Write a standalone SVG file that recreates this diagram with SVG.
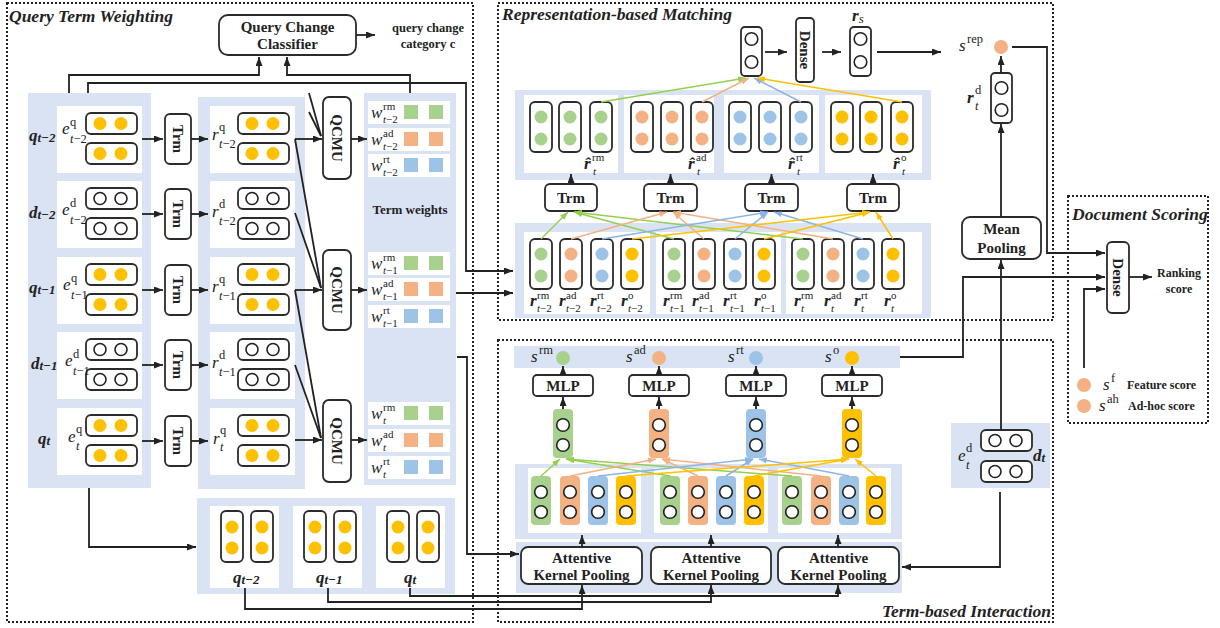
<svg xmlns="http://www.w3.org/2000/svg" width="1220" height="628" viewBox="0 0 1220 628">
<style>
.bg{fill:#dae3f3}
.wb{fill:#fff}
.bx{fill:#fff;stroke:#2b2b2b;stroke-width:1.8}
.oc{fill:#fff;stroke:#222;stroke-width:1.6}
.ln{fill:none;stroke:#222;stroke-width:1.8}
.fr{fill:none;stroke:#222;stroke-width:2;stroke-dasharray:2 2}
.lg{fill:none;stroke:#92d050;stroke-width:1.5}
.lo{fill:none;stroke:#f4b183;stroke-width:1.5}
.lb{fill:none;stroke:#8eb4e3;stroke-width:1.5}
.ly{fill:none;stroke:#ffc000;stroke-width:1.5}
text{font-family:"Liberation Serif","Times New Roman",serif;fill:#222}
.b{font-weight:bold}
.ttl{font-weight:bold;font-style:italic;font-size:17.5px}
.mi{font-style:italic;font-size:17px}
.bi{font-weight:bold;font-style:italic;font-size:17px}
.bs{font-weight:bold;font-style:italic;font-size:13px}
.sc{font-size:12.5px}
.ss{font-size:11px}
.it{font-style:italic}
</style>
<defs>
<marker id="ah" markerUnits="userSpaceOnUse" markerWidth="10" markerHeight="8" refX="9" refY="3.5" orient="auto"><path d="M0,0 L9,3.5 L0,7 z" fill="#222"/></marker>
<marker id="ag" markerUnits="userSpaceOnUse" markerWidth="9" markerHeight="7" refX="8" refY="3" orient="auto"><path d="M0,0 L8,3 L0,6 z" fill="#92d050"/></marker>
<marker id="ao" markerUnits="userSpaceOnUse" markerWidth="9" markerHeight="7" refX="8" refY="3" orient="auto"><path d="M0,0 L8,3 L0,6 z" fill="#f4b183"/></marker>
<marker id="ab" markerUnits="userSpaceOnUse" markerWidth="9" markerHeight="7" refX="8" refY="3" orient="auto"><path d="M0,0 L8,3 L0,6 z" fill="#8eb4e3"/></marker>
<marker id="ay" markerUnits="userSpaceOnUse" markerWidth="9" markerHeight="7" refX="8" refY="3" orient="auto"><path d="M0,0 L8,3 L0,6 z" fill="#ffc000"/></marker>
<!-- horizontal embedding pills -->
<g id="hy"><rect class="bx" width="51" height="21" rx="5"/><circle cx="14" cy="10.5" r="6.5" fill="#ffc000"/><circle cx="35" cy="10.5" r="6.5" fill="#ffc000"/></g>
<g id="hw"><rect class="bx" width="51" height="21" rx="5"/><circle class="oc" cx="14" cy="10.5" r="6"/><circle class="oc" cx="35" cy="10.5" r="6"/></g>
<!-- vertical pills -->
<g id="vy"><rect class="bx" width="22" height="51" rx="5"/><circle cx="11" cy="16" r="6.5" fill="#ffc000"/><circle cx="11" cy="37" r="6.5" fill="#ffc000"/></g>
<g id="pg"><rect class="bx" width="22" height="50" rx="5"/><circle cx="11" cy="15" r="6.5" fill="#a9d18e"/><circle cx="11" cy="37" r="6.5" fill="#a9d18e"/></g>
<g id="po"><rect class="bx" width="22" height="50" rx="5"/><circle cx="11" cy="15" r="6.5" fill="#f4b183"/><circle cx="11" cy="37" r="6.5" fill="#f4b183"/></g>
<g id="pb"><rect class="bx" width="22" height="50" rx="5"/><circle cx="11" cy="15" r="6.5" fill="#9dc3e6"/><circle cx="11" cy="37" r="6.5" fill="#9dc3e6"/></g>
<g id="pyl"><rect class="bx" width="22" height="50" rx="5"/><circle cx="11" cy="15" r="6.5" fill="#ffc000"/><circle cx="11" cy="37" r="6.5" fill="#ffc000"/></g>
<g id="vw"><rect class="bx" width="21" height="49" rx="4"/><circle class="oc" cx="10.5" cy="12" r="6.3"/><circle class="oc" cx="10.5" cy="35" r="6.3"/></g>
<!-- filled kernel vectors -->
<g id="kg"><rect width="20" height="49" rx="4" fill="#a9d18e"/><circle class="oc" cx="10" cy="16" r="6.3"/><circle class="oc" cx="10" cy="36" r="6.3"/></g>
<g id="ko"><rect width="20" height="49" rx="4" fill="#f4b183"/><circle class="oc" cx="10" cy="16" r="6.3"/><circle class="oc" cx="10" cy="36" r="6.3"/></g>
<g id="kb"><rect width="20" height="49" rx="4" fill="#9dc3e6"/><circle class="oc" cx="10" cy="16" r="6.3"/><circle class="oc" cx="10" cy="36" r="6.3"/></g>
<g id="ky"><rect width="20" height="49" rx="4" fill="#ffc000"/><circle class="oc" cx="10" cy="16" r="6.3"/><circle class="oc" cx="10" cy="36" r="6.3"/></g>
<!-- term weight squares -->
<g id="sqg"><rect width="14" height="14" fill="#a9d18e"/><rect x="25" width="14" height="14" fill="#a9d18e"/></g>
<g id="sqo"><rect width="14" height="14" fill="#f4b183"/><rect x="25" width="14" height="14" fill="#f4b183"/></g>
<g id="sqb"><rect width="14" height="14" fill="#9dc3e6"/><rect x="25" width="14" height="14" fill="#9dc3e6"/></g>
</defs>

<rect width="1220" height="628" fill="#fff"/>

<!-- section frames -->
<g id="frames">
<rect class="fr" x="7" y="3" width="466" height="619"/>
<rect class="fr" x="498" y="3" width="555" height="317"/>
<rect class="fr" x="498" y="340" width="555" height="282"/>
<rect class="fr" x="1068" y="196" width="140" height="227"/>
<text class="ttl" x="9" y="22">Query Term Weighting</text>
<text class="ttl" x="502" y="20">Representation-based Matching</text>
<text class="ttl" x="1051" y="617" text-anchor="end">Term-based Interaction</text>
<text class="ttl" x="1072" y="220">Document Scoring</text>
</g>

<!-- backgrounds -->
<g id="panels">
<rect class="bg" x="28" y="93" width="123" height="395"/>
<rect class="bg" x="198" y="97" width="107" height="392"/>
<rect class="bg" x="364" y="93" width="92" height="392"/>
<rect class="bg" x="197" y="498" width="258" height="96"/>
<rect class="bg" x="515" y="90" width="416" height="90"/>
<rect class="bg" x="515" y="223" width="416" height="95"/>
<rect class="bg" x="514" y="346" width="386" height="22"/>
<rect class="bg" x="515" y="464" width="387" height="75"/>
<rect class="bg" x="516" y="542" width="386" height="51"/>
<rect class="bg" x="951" y="423" width="99" height="65"/>
</g>

<!-- query change classifier -->
<g id="classifier">
<rect class="bx" x="219" y="15" width="137" height="40" rx="9"/>
<text class="b" x="287.5" y="32" font-size="15" text-anchor="middle">Query Change</text>
<text class="b" x="287.5" y="49" font-size="15" text-anchor="middle">Classifier</text>
<text class="b" x="428" y="32" font-size="12.5" text-anchor="middle">query change</text>
<text class="b" x="428" y="48" font-size="12.5" text-anchor="middle">category c</text>
</g>

<!-- session rows: embeddings, Trm encoders, contextual representations -->
<g id="row-q-t2">
<rect class="wb" x="57" y="106" width="85" height="67"/>
<use href="#hy" x="86" y="113"/><use href="#hy" x="86" y="143"/>
<text class="bi" x="29" y="141">q<tspan class="bs" dy="1">t−2</tspan></text>
<text class="mi" x="62" y="134">e</text><text class="sc" x="70" y="126">q</text><text class="sc" x="70" y="143"><tspan class="it">t</tspan>−2</text>
<rect class="bx" x="165" y="114" width="26" height="50" rx="5"/>
<text class="b" font-size="15" transform="translate(178,139) rotate(90)" text-anchor="middle" dominant-baseline="central">Trm</text>
<rect class="wb" x="210" y="106" width="85" height="67"/>
<use href="#hy" x="238" y="113"/><use href="#hy" x="238" y="143"/>
<text class="mi" x="212" y="140">r</text><text class="sc" x="219" y="131">q</text><text class="sc" x="219" y="148"><tspan class="it">t</tspan>−2</text>
</g>
<g id="row-d-t2">
<rect class="wb" x="57" y="181" width="85" height="67"/>
<use href="#hw" x="86" y="188"/><use href="#hw" x="86" y="218"/>
<text class="bi" x="29" y="218">d<tspan class="bs" dy="1">t−2</tspan></text>
<text class="mi" x="62" y="215">e</text><text class="sc" x="70" y="207">d</text><text class="sc" x="70" y="224"><tspan class="it">t</tspan>−2</text>
<rect class="bx" x="165" y="189" width="26" height="50" rx="5"/>
<text class="b" font-size="15" transform="translate(178,214) rotate(90)" text-anchor="middle" dominant-baseline="central">Trm</text>
<rect class="wb" x="210" y="181" width="85" height="67"/>
<use href="#hw" x="238" y="188"/><use href="#hw" x="238" y="218"/>
<text class="mi" x="212" y="217">r</text><text class="sc" x="219" y="208">d</text><text class="sc" x="219" y="225"><tspan class="it">t</tspan>−2</text>
</g>
<g id="row-q-t1">
<rect class="wb" x="57" y="257" width="85" height="67"/>
<use href="#hy" x="86" y="264"/><use href="#hy" x="86" y="294"/>
<text class="bi" x="29" y="293">q<tspan class="bs" dy="1">t−1</tspan></text>
<text class="mi" x="63" y="290">e</text><text class="sc" x="71" y="282">q</text><text class="sc" x="71" y="299"><tspan class="it">t</tspan>−1</text>
<rect class="bx" x="165" y="265" width="26" height="50" rx="5"/>
<text class="b" font-size="15" transform="translate(178,290) rotate(90)" text-anchor="middle" dominant-baseline="central">Trm</text>
<rect class="wb" x="210" y="257" width="85" height="67"/>
<use href="#hy" x="238" y="264"/><use href="#hy" x="238" y="294"/>
<text class="mi" x="212" y="292">r</text><text class="sc" x="219" y="283">q</text><text class="sc" x="219" y="300"><tspan class="it">t</tspan>−1</text>
</g>
<g id="row-d-t1">
<rect class="wb" x="57" y="332" width="85" height="67"/>
<use href="#hw" x="86" y="339"/><use href="#hw" x="86" y="369"/>
<text class="bi" x="31" y="369">d<tspan class="bs" dy="1">t−1</tspan></text>
<text class="mi" x="65" y="366">e</text><text class="sc" x="73" y="358">d</text><text class="sc" x="73" y="375"><tspan class="it">t</tspan>−1</text>
<rect class="bx" x="165" y="340" width="26" height="50" rx="5"/>
<text class="b" font-size="15" transform="translate(178,365) rotate(90)" text-anchor="middle" dominant-baseline="central">Trm</text>
<rect class="wb" x="210" y="332" width="85" height="67"/>
<use href="#hw" x="238" y="339"/><use href="#hw" x="238" y="369"/>
<text class="mi" x="212" y="368">r</text><text class="sc" x="219" y="359">d</text><text class="sc" x="219" y="376"><tspan class="it">t</tspan>−1</text>
</g>
<g id="row-q-t">
<rect class="wb" x="57" y="408" width="85" height="67"/>
<use href="#hy" x="86" y="415"/><use href="#hy" x="86" y="445"/>
<text class="bi" x="38" y="444">q<tspan class="bs" dy="1">t</tspan></text>
<text class="mi" x="68" y="442">e</text><text class="sc" x="76" y="433">q</text><text class="sc it" x="76" y="450">t</text>
<rect class="bx" x="165" y="416" width="26" height="50" rx="5"/>
<text class="b" font-size="15" transform="translate(178,441) rotate(90)" text-anchor="middle" dominant-baseline="central">Trm</text>
<rect class="wb" x="210" y="408" width="85" height="67"/>
<use href="#hy" x="238" y="415"/><use href="#hy" x="238" y="445"/>
<text class="mi" x="213" y="444">r</text><text class="sc" x="220" y="434">q</text><text class="sc it" x="220" y="451">t</text>
</g>

<!-- query change modeling units -->
<g id="qcmu-t2"><rect class="bx" x="323" y="97" width="28" height="82" rx="6"/>
<text class="b" font-size="15" transform="translate(337,138) rotate(90)" text-anchor="middle" dominant-baseline="central">QCMU</text></g>
<g id="qcmu-t1"><rect class="bx" x="323" y="250" width="28" height="80" rx="6"/>
<text class="b" font-size="15" transform="translate(337,290) rotate(90)" text-anchor="middle" dominant-baseline="central">QCMU</text></g>
<g id="qcmu-t"><rect class="bx" x="323" y="400" width="28" height="82" rx="6"/>
<text class="b" font-size="15" transform="translate(337,441) rotate(90)" text-anchor="middle" dominant-baseline="central">QCMU</text></g>

<!-- term weights -->
<g id="term-weights">
<text class="b" x="410" y="214" font-size="13" text-anchor="middle">Term weights</text>
<rect class="wb" x="368" y="101" width="82" height="23"/><use href="#sqg" x="404" y="105"/>
<text class="mi" x="371" y="118">w</text><text class="ss" x="383" y="110">rm</text><text class="ss" x="383" y="123"><tspan class="it">t</tspan>−2</text>
<rect class="wb" x="368" y="128" width="82" height="23"/><use href="#sqo" x="404" y="132"/>
<text class="mi" x="371" y="145">w</text><text class="ss" x="383" y="137">ad</text><text class="ss" x="383" y="150"><tspan class="it">t</tspan>−2</text>
<rect class="wb" x="368" y="154" width="82" height="23"/><use href="#sqb" x="404" y="158"/>
<text class="mi" x="371" y="171">w</text><text class="ss" x="383" y="163">rt</text><text class="ss" x="383" y="176"><tspan class="it">t</tspan>−2</text>
<rect class="wb" x="368" y="252" width="82" height="23"/><use href="#sqg" x="404" y="256"/>
<text class="mi" x="371" y="269">w</text><text class="ss" x="383" y="261">rm</text><text class="ss" x="383" y="274"><tspan class="it">t</tspan>−1</text>
<rect class="wb" x="368" y="278" width="82" height="23"/><use href="#sqo" x="404" y="282"/>
<text class="mi" x="371" y="295">w</text><text class="ss" x="383" y="287">ad</text><text class="ss" x="383" y="300"><tspan class="it">t</tspan>−1</text>
<rect class="wb" x="368" y="305" width="82" height="23"/><use href="#sqb" x="404" y="309"/>
<text class="mi" x="371" y="322">w</text><text class="ss" x="383" y="314">rt</text><text class="ss" x="383" y="327"><tspan class="it">t</tspan>−1</text>
<rect class="wb" x="368" y="402" width="82" height="23"/><use href="#sqg" x="404" y="406"/>
<text class="mi" x="371" y="419">w</text><text class="ss" x="383" y="411">rm</text><text class="ss it" x="383" y="424">t</text>
<rect class="wb" x="368" y="429" width="82" height="23"/><use href="#sqo" x="404" y="433"/>
<text class="mi" x="371" y="446">w</text><text class="ss" x="383" y="438">ad</text><text class="ss it" x="383" y="451">t</text>
<rect class="wb" x="368" y="456" width="82" height="23"/><use href="#sqb" x="404" y="460"/>
<text class="mi" x="371" y="473">w</text><text class="ss" x="383" y="465">rt</text><text class="ss it" x="383" y="478">t</text>
</g>

<!-- query representations for interaction -->
<g id="query-vectors">
<rect class="wb" x="210" y="506" width="69" height="82"/>
<use href="#vy" x="221" y="511"/><use href="#vy" x="251" y="511"/>
<text class="bi" x="233" y="583">q<tspan class="bs" dy="1">t−2</tspan></text>
<rect class="wb" x="293" y="506" width="69" height="82"/>
<use href="#vy" x="304" y="511"/><use href="#vy" x="334" y="511"/>
<text class="bi" x="316" y="583">q<tspan class="bs" dy="1">t−1</tspan></text>
<rect class="wb" x="376" y="506" width="69" height="82"/>
<use href="#vy" x="387" y="511"/><use href="#vy" x="417" y="511"/>
<text class="bi" x="404" y="583">q<tspan class="bs" dy="1">t</tspan></text>
</g>

<!-- representation-based matching -->
<g id="rep-top">
<use href="#vw" x="741" y="27"/>
<rect class="bx" x="796" y="18" width="18" height="64" rx="4"/>
<text class="b" font-size="15" transform="translate(805,50) rotate(90)" text-anchor="middle" dominant-baseline="central">Dense</text>
<use href="#vw" x="850" y="27"/>
<text class="bi" x="852" y="21">r<tspan class="it" font-weight="normal" font-size="13" dy="2">s</tspan></text>
<text class="mi" x="959" y="51">s</text><text class="sc" x="967" y="43">rep</text>
<circle cx="1001" cy="47" r="7" fill="#f4b183"/>
</g>
<g id="rep-hat">
<rect class="wb" x="524" y="95" width="94" height="78"/>
<use href="#pg" x="530" y="102"/><use href="#pg" x="559" y="102"/><use href="#pg" x="590" y="102"/>
<text class="bi" x="584" y="169">r̂</text><text class="ss" x="592" y="161">rm</text><text class="ss it" x="593" y="175">t</text>
<rect class="wb" x="624" y="95" width="90" height="78"/>
<use href="#po" x="631" y="102"/><use href="#po" x="661" y="102"/><use href="#po" x="691" y="102"/>
<text class="bi" x="688" y="169">r̂</text><text class="ss" x="696" y="161">ad</text><text class="ss it" x="697" y="175">t</text>
<rect class="wb" x="724" y="95" width="95" height="78"/>
<use href="#pb" x="729" y="102"/><use href="#pb" x="759" y="102"/><use href="#pb" x="790" y="102"/>
<text class="bi" x="788" y="169">r̂</text><text class="ss" x="796" y="161">rt</text><text class="ss it" x="797" y="175">t</text>
<rect class="wb" x="825" y="95" width="97" height="78"/>
<use href="#pyl" x="831" y="102"/><use href="#pyl" x="860" y="102"/><use href="#pyl" x="891" y="102"/>
<text class="bi" x="893" y="169">r̂</text><text class="ss" x="901" y="161">o</text><text class="ss it" x="902" y="175">t</text>
</g>
<g id="rep-trm">
<rect class="bx" x="545" y="184" width="52" height="27" rx="5"/><text class="b" x="571" y="203" font-size="15" text-anchor="middle">Trm</text>
<rect class="bx" x="644" y="184" width="53" height="27" rx="5"/><text class="b" x="670.5" y="203" font-size="15" text-anchor="middle">Trm</text>
<rect class="bx" x="745" y="184" width="53" height="27" rx="5"/><text class="b" x="771.5" y="203" font-size="15" text-anchor="middle">Trm</text>
<rect class="bx" x="847" y="184" width="52" height="27" rx="5"/><text class="b" x="873" y="203" font-size="15" text-anchor="middle">Trm</text>
</g>
<g id="rep-weighted">
<rect class="wb" x="524" y="232" width="126" height="82"/>
<rect class="wb" x="656" y="232" width="125" height="82"/>
<rect class="wb" x="786" y="232" width="136" height="82"/>
<use href="#pg" x="530" y="239"/><use href="#po" x="560" y="239"/><use href="#pb" x="591" y="239"/><use href="#pyl" x="621" y="239"/>
<use href="#pg" x="663" y="239"/><use href="#po" x="693" y="239"/><use href="#pb" x="724" y="239"/><use href="#pyl" x="753" y="239"/>
<use href="#pg" x="792" y="239"/><use href="#po" x="822" y="239"/><use href="#pb" x="852" y="239"/><use href="#pyl" x="882" y="239"/>
<text class="bi" x="530" y="306">r</text><text class="ss" x="537" y="299">rm</text><text class="ss" x="537" y="312"><tspan class="it">t</tspan>−2</text>
<text class="bi" x="559" y="306">r</text><text class="ss" x="566" y="299">ad</text><text class="ss" x="566" y="312"><tspan class="it">t</tspan>−2</text>
<text class="bi" x="590" y="306">r</text><text class="ss" x="597" y="299">rt</text><text class="ss" x="597" y="312"><tspan class="it">t</tspan>−2</text>
<text class="bi" x="621" y="306">r</text><text class="ss" x="628" y="299">o</text><text class="ss" x="628" y="312"><tspan class="it">t</tspan>−2</text>
<text class="bi" x="663" y="306">r</text><text class="ss" x="670" y="299">rm</text><text class="ss" x="670" y="312"><tspan class="it">t</tspan>−1</text>
<text class="bi" x="692" y="306">r</text><text class="ss" x="699" y="299">ad</text><text class="ss" x="699" y="312"><tspan class="it">t</tspan>−1</text>
<text class="bi" x="723" y="306">r</text><text class="ss" x="730" y="299">rt</text><text class="ss" x="730" y="312"><tspan class="it">t</tspan>−1</text>
<text class="bi" x="754" y="306">r</text><text class="ss" x="761" y="299">o</text><text class="ss" x="761" y="312"><tspan class="it">t</tspan>−1</text>
<text class="bi" x="794" y="306">r</text><text class="ss" x="801" y="299">rm</text><text class="ss it" x="801" y="312">t</text>
<text class="bi" x="824" y="306">r</text><text class="ss" x="831" y="299">ad</text><text class="ss it" x="831" y="312">t</text>
<text class="bi" x="854" y="306">r</text><text class="ss" x="861" y="299">rt</text><text class="ss it" x="861" y="312">t</text>
<text class="bi" x="884" y="306">r</text><text class="ss" x="891" y="299">o</text><text class="ss it" x="891" y="312">t</text>
</g>

<!-- document side -->
<g id="doc-rep">
<rect class="bx" x="991" y="73" width="21" height="50" rx="4"/>
<circle class="oc" cx="1001.5" cy="88" r="6.3"/><circle class="oc" cx="1001.5" cy="110" r="6.3"/>
<text class="bi" x="967" y="103">r</text><text class="sc" x="975" y="94">d</text><text class="sc it" x="975" y="110">t</text>
</g>
<g id="mean-pooling">
<rect class="bx" x="962" y="217" width="79" height="42" rx="8"/>
<text class="b" x="1001.5" y="234" font-size="15" text-anchor="middle">Mean</text>
<text class="b" x="1001.5" y="253" font-size="15" text-anchor="middle">Pooling</text>
</g>
<g id="doc-embed">
<use href="#hw" x="981" y="430"/><use href="#hw" x="981" y="461"/>
<text class="mi" x="958" y="461">e</text><text class="sc" x="966" y="452">d</text><text class="sc it" x="966" y="469">t</text>
<text class="bi" x="1033" y="461">d<tspan class="bs" dy="1">t</tspan></text>
</g>

<!-- term-based interaction -->
<g id="scores">
<text class="mi" x="531" y="362">s</text><text class="sc" x="539" y="354">rm</text><circle cx="563" cy="358" r="7" fill="#a9d18e"/>
<text class="mi" x="626" y="362">s</text><text class="sc" x="634" y="354">ad</text><circle cx="659" cy="358" r="7" fill="#f4b183"/>
<text class="mi" x="728" y="362">s</text><text class="sc" x="736" y="354">rt</text><circle cx="756" cy="358" r="7" fill="#9dc3e6"/>
<text class="mi" x="825" y="362">s</text><text class="sc" x="833" y="354">o</text><circle cx="852" cy="358" r="7" fill="#ffc000"/>
</g>
<g id="mlp">
<rect class="bx" x="533" y="375" width="60" height="21" rx="4"/><text class="b" x="563" y="391" font-size="15" text-anchor="middle">MLP</text>
<rect class="bx" x="629" y="375" width="60" height="21" rx="4"/><text class="b" x="659" y="391" font-size="15" text-anchor="middle">MLP</text>
<rect class="bx" x="726" y="375" width="60" height="21" rx="4"/><text class="b" x="756" y="391" font-size="15" text-anchor="middle">MLP</text>
<rect class="bx" x="822" y="375" width="60" height="21" rx="4"/><text class="b" x="852" y="391" font-size="15" text-anchor="middle">MLP</text>
</g>
<g id="kernel-agg">
<use href="#kg" x="553" y="409"/><use href="#ko" x="649" y="409"/><use href="#kb" x="746" y="409"/><use href="#ky" x="842" y="409"/>
</g>
<g id="kernel-features">
<rect class="wb" x="528" y="468" width="113" height="65"/>
<rect class="wb" x="654" y="468" width="114" height="65"/>
<rect class="wb" x="778" y="468" width="113" height="65"/>
<use href="#kg" x="531" y="476"/><use href="#ko" x="560" y="476"/><use href="#kb" x="588" y="476"/><use href="#ky" x="616" y="476"/>
<use href="#kg" x="660" y="476"/><use href="#ko" x="688" y="476"/><use href="#kb" x="716" y="476"/><use href="#ky" x="744" y="476"/>
<use href="#kg" x="782" y="476"/><use href="#ko" x="811" y="476"/><use href="#kb" x="839" y="476"/><use href="#ky" x="866" y="476"/>
</g>
<g id="kernel-pooling">
<rect class="bx" x="521" y="547" width="121" height="37" rx="7"/>
<text class="b" x="581.5" y="563" font-size="15" text-anchor="middle">Attentive</text><text class="b" x="581.5" y="580" font-size="15" text-anchor="middle">Kernel Pooling</text>
<rect class="bx" x="651" y="547" width="120" height="37" rx="7"/>
<text class="b" x="711" y="563" font-size="15" text-anchor="middle">Attentive</text><text class="b" x="711" y="580" font-size="15" text-anchor="middle">Kernel Pooling</text>
<rect class="bx" x="778" y="547" width="121" height="37" rx="7"/>
<text class="b" x="838.5" y="563" font-size="15" text-anchor="middle">Attentive</text><text class="b" x="838.5" y="580" font-size="15" text-anchor="middle">Kernel Pooling</text>
</g>

<!-- document scoring -->
<g id="doc-dense">
<rect class="bx" x="1107" y="242" width="22" height="71" rx="5"/>
<text class="b" font-size="15" transform="translate(1118,277.5) rotate(90)" text-anchor="middle" dominant-baseline="central">Dense</text>
<text class="b" x="1179" y="277" font-size="12" text-anchor="middle">Ranking</text>
<text class="b" x="1179" y="293" font-size="12" text-anchor="middle">score</text>
</g>
<g id="extra-scores">
<circle cx="1084" cy="385" r="7" fill="#f4b183"/>
<text class="mi" x="1103" y="390">s</text><text class="sc" x="1111" y="382">f</text>
<text class="b" x="1127" y="389" font-size="12">Feature score</text>
<circle cx="1084" cy="406" r="7" fill="#f4b183"/>
<text class="mi" x="1099" y="411">s</text><text class="sc" x="1107" y="403">ah</text>
<text class="b" x="1128" y="410" font-size="12">Ad-hoc score</text>
</g>

<!-- connectors -->
<g id="connectors">
<g class="ln" marker-end="url(#ah)">
<path d="M69,93 V75 H259 V57"/>
<path d="M410,93 V75 H287 V57"/>
<path d="M88,93 V83 H466 V271 H513"/>
<path d="M456,293 H513"/>
<path d="M457,357 H467 V554 H519"/>
<path d="M356,35 H375"/>
<path d="M89,488 V547 H196"/>
<path d="M142,139 H163"/><path d="M191,139 H208"/>
<path d="M142,214 H163"/><path d="M191,214 H208"/>
<path d="M142,290 H163"/><path d="M191,290 H208"/>
<path d="M142,365 H163"/><path d="M191,365 H208"/>
<path d="M142,441 H163"/><path d="M191,441 H208"/>
<path d="M295,139 H322"/><path d="M295,290 H322"/><path d="M295,440 H322"/>
<path d="M351,139 H367"/><path d="M351,290 H367"/><path d="M351,440 H367"/>
<path d="M245,588 V609 H582 V585"/>
<path d="M328,588 V602 H711 V585"/>
<path d="M410,588 V596 H838 V585"/>
<path d="M582,547 V535"/><path d="M711,547 V535"/><path d="M838,547 V535"/>
<path d="M563,409 V397"/><path d="M659,409 V397"/><path d="M756,409 V397"/><path d="M852,409 V397"/>
<path d="M563,375 V366"/><path d="M659,375 V366"/><path d="M756,375 V366"/><path d="M852,375 V366"/>
<path d="M571,184 V174"/><path d="M670.5,184 V174"/><path d="M771.5,184 V174"/><path d="M873,184 V174"/>
<path d="M765,52 H787"/><path d="M822,52 H841"/><path d="M877,52 H941"/>
<path d="M1012,47 H1047 V253 H1105"/>
<path d="M1001,73 V56"/>
<path d="M1001,217 V124"/>
<path d="M1001,430 V260"/>
<path d="M1000,492 V567 H902"/>
<path d="M900,357 H963 V277 H1105"/>
<path d="M1084,368 V289 H1105"/>
<path d="M1129,277 H1152"/>
</g>
<g class="ln">
<path d="M309,93 L321,136"/><path d="M309,112 L321,136"/>
<path d="M295,139 L321,288"/><path d="M295,213 L321,288"/>
<path d="M295,290 L321,438"/><path d="M295,365 L321,438"/>
</g>
<!-- channel-wise links into the transformers -->
<g class="lg" marker-end="url(#ag)"><path d="M541,239 L568,212"/><path d="M674,239 L574,212"/><path d="M803,239 L574,212"/></g>
<g class="lo" marker-end="url(#ao)"><path d="M571,239 L667,212"/><path d="M704,239 L673,212"/><path d="M833,239 L673,212"/></g>
<g class="lb" marker-end="url(#ab)"><path d="M602,239 L768,212"/><path d="M735,239 L768,212"/><path d="M863,239 L774,212"/></g>
<g class="ly" marker-end="url(#ay)"><path d="M632,239 L870,212"/><path d="M764,239 L870,212"/><path d="M893,239 L876,212"/></g>
<!-- summary links to the session vector -->
<path class="lg" marker-end="url(#ag)" d="M601,102 L746,78"/>
<path class="lo" marker-end="url(#ao)" d="M702,102 L749,78"/>
<path class="lb" marker-end="url(#ab)" d="M801,102 L754,78"/>
<path class="ly" marker-end="url(#ay)" d="M902,102 L757,78"/>
<!-- kernel feature links -->
<g class="lg" marker-end="url(#ag)"><path d="M541,476 L560,459"/><path d="M670,476 L566,459"/><path d="M792,476 L566,459"/></g>
<g class="lo" marker-end="url(#ao)"><path d="M570,476 L656,459"/><path d="M698,476 L662,459"/><path d="M821,476 L662,459"/></g>
<g class="lb" marker-end="url(#ab)"><path d="M598,476 L753,459"/><path d="M726,476 L753,459"/><path d="M849,476 L759,459"/></g>
<g class="ly" marker-end="url(#ay)"><path d="M626,476 L849,459"/><path d="M754,476 L849,459"/><path d="M876,476 L855,459"/></g>
</g>
</svg>
